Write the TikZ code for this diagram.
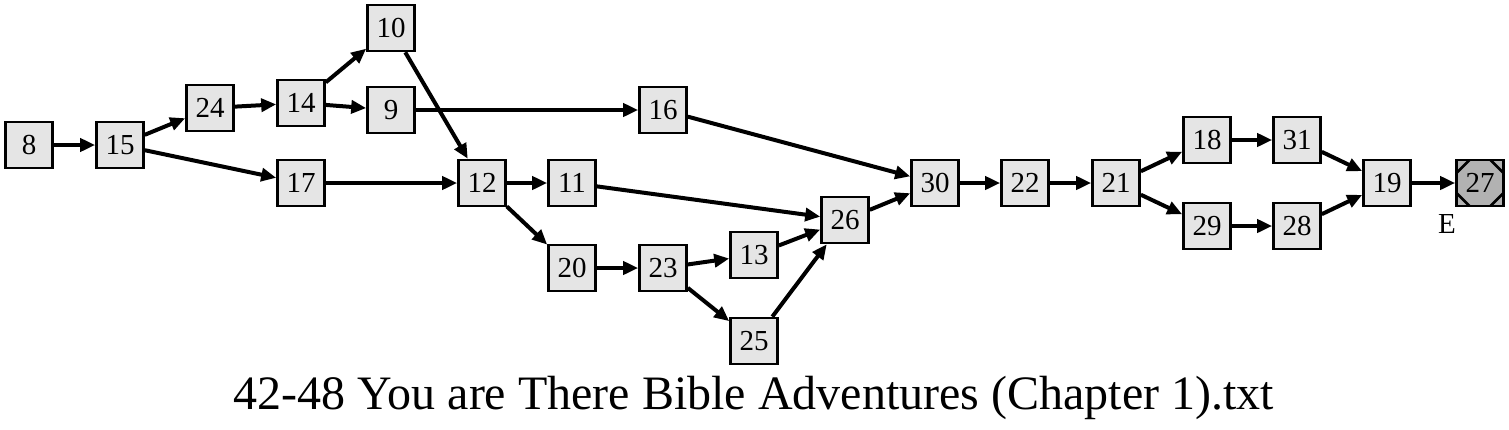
\documentclass[tikz,border=0pt]{standalone}
\usepackage{fontspec}
\setmainfont{Liberation Serif}
\usetikzlibrary{arrows.meta}
\begin{document}
\begin{tikzpicture}[x=0.5pt,y=-0.5pt,
  nd/.style={draw=black, line width=1.3pt, fill=black!10, minimum width=23.5pt, minimum height=23pt, inner sep=0pt, font=\fontsize{14.5}{16}\selectfont},
  fin/.style={nd, fill=black!30, path picture={
    \draw[line width=1.3pt] ([xshift=6.5pt]path picture bounding box.north west) -- ([yshift=-6.5pt]path picture bounding box.north west);
    \draw[line width=1.3pt] ([xshift=-6.5pt]path picture bounding box.north east) -- ([yshift=-6.5pt]path picture bounding box.north east);
    \draw[line width=1.3pt] ([xshift=6.5pt]path picture bounding box.south west) -- ([yshift=6.5pt]path picture bounding box.south west);
    \draw[line width=1.3pt] ([xshift=-6.5pt]path picture bounding box.south east) -- ([yshift=6.5pt]path picture bounding box.south east);}},
  ed/.style={draw=black, line width=2pt, -{Triangle[length=7.5pt,width=6.5pt]}}]
\useasboundingbox (0,0) rectangle (1509,429);
\node[nd] (n8) at (29,145) {8};
\node[nd] (n15) at (120,145) {15};
\node[nd] (n24) at (210,108) {24};
\node[nd] (n14) at (301,103) {14};
\node[nd] (n10) at (391,28) {10};
\node[nd] (n9) at (391,110) {9};
\node[nd] (n16) at (663,110) {16};
\node[nd] (n17) at (301,183) {17};
\node[nd] (n12) at (482,183) {12};
\node[nd] (n11) at (572,183) {11};
\node[nd] (n20) at (572,268) {20};
\node[nd] (n23) at (663,268) {23};
\node[nd] (n13) at (754,255) {13};
\node[nd] (n25) at (754,341) {25};
\node[nd] (n26) at (845,220) {26};
\node[nd] (n30) at (935,183) {30};
\node[nd] (n22) at (1025,183) {22};
\node[nd] (n21) at (1116,183) {21};
\node[nd] (n18) at (1207,140) {18};
\node[nd] (n29) at (1207,226) {29};
\node[nd] (n31) at (1297,140) {31};
\node[nd] (n28) at (1297,226) {28};
\node[nd] (n19) at (1387,183) {19};
\node[fin] (n27) at (1480,183) {27};
\node[font=\fontsize{14.5}{16}\selectfont] (lblE) at (1447,224) {E};
\node[font=\fontsize{24}{28}\selectfont] (title) at (754,398) {42-48 You are There Bible Adventures (Chapter 1).txt};
\foreach \a/\b in {8/15,15/24,15/17,24/14,14/10,14/9,10/12,9/16,17/12,12/11,12/20,16/30,11/26,20/23,23/13,23/25,13/26,25/26,26/30,30/22,22/21,21/18,21/29,18/31,29/28,31/19,28/19,19/27}
  \draw[ed] (n\a) -- (n\b);
\end{tikzpicture}
\end{document}
